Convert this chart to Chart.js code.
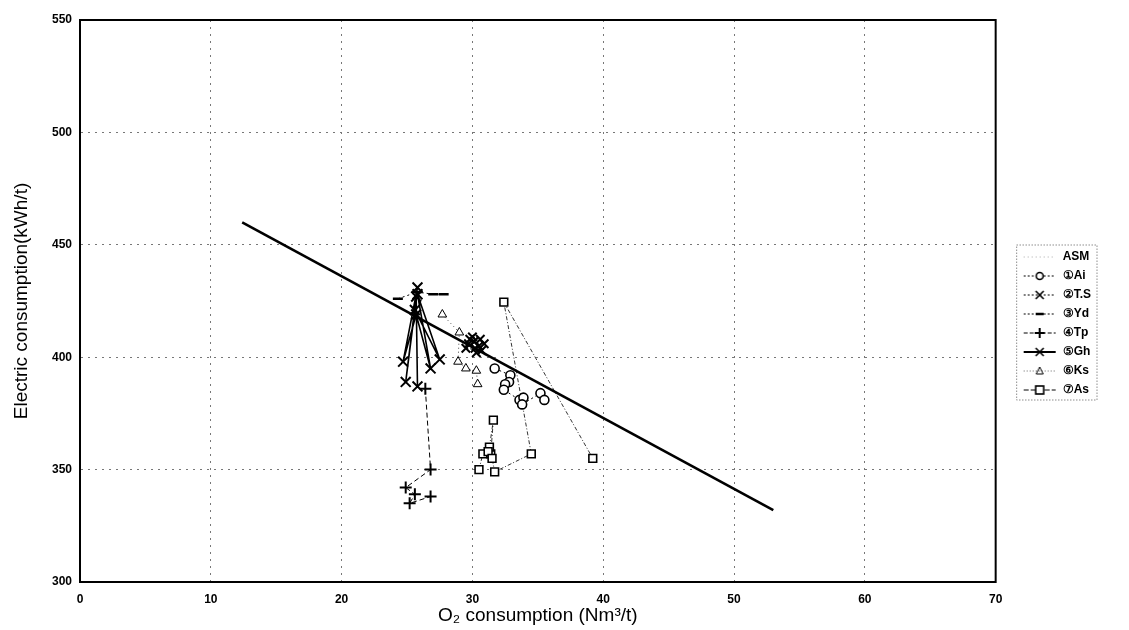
<!DOCTYPE html>
<html>
<head>
<meta charset="utf-8">
<script src="https://cdn.jsdelivr.net/npm/chart.js@4"></script>
<style>
  html, body { margin: 0; padding: 0; background: #fff; }
  #wrap { width: 1129px; height: 630px; }
</style>
</head>
<body>
<div id="wrap"><canvas id="o2Chart" width="1129" height="630"></canvas></div>
<script>
// axis ranges / ticks
const xTicks = [0, 10, 20, 30, 40, 50, 60, 70];
const yTicks = [300, 350, 400, 450, 500, 550];

// ASM trend line
const asmX = [12.4, 53.0];
const asmY = [460, 332];

// 1 Ai
const aiX = [31.7, 32.9, 32.8, 32.5, 32.4, 33.6, 33.9, 33.8, 35.2, 35.5];
const aiY = [395, 392, 389, 388, 385.5, 381, 382, 379, 384, 381];

// 2 T.S
const tsX = [29.7, 30.2, 30.6, 30.0, 30.9, 30.3, 29.8, 30.5, 30.1, 29.5, 30.7];
const tsY = [406, 404, 408, 409, 406, 402, 408, 405, 407, 404, 403];

// 3 Yd
const ydX = [24.3, 25.8, 27.0, 27.8];
const ydY = [426, 429, 428, 428];

// 4 Tp
const tpX = [26.4, 26.8, 24.9, 25.6, 25.2, 26.8];
const tpY = [386, 350, 342, 339, 335, 338];

// 5 Gh
const ghX = [25.8, 24.7, 25.7, 26.8, 25.8, 27.5, 25.6, 24.9, 25.7, 25.8];
const ghY = [431, 398, 419, 395, 428, 399, 421, 389, 427, 387];

// 6 Ks
const ksX = [27.7, 29.0, 28.9, 29.5, 30.3, 30.4];
const ksY = [419, 411, 398, 395, 394, 388];

// 7 As
const asX = [30.5, 30.8, 31.4, 31.6, 31.3, 31.2, 31.5, 31.7, 34.5, 32.4, 39.2];
const asY = [350, 357, 357, 372, 360, 358, 355, 349, 357, 424.5, 355];

const toPoints = (xs, ys) => xs.map((x, i) => ({ x: x, y: ys[i] }));

// legend icon: blank gap on the left (keeps the legend off the plot), then line + marker
const ICON_GAP = 20;
function legendIcon(dash, lineWidth, marker, lineColor) {
    const c = document.createElement('canvas');
    c.width = 34 + ICON_GAP; c.height = 14;
    const g = c.getContext('2d');
    g.translate(ICON_GAP, 0);
    g.strokeStyle = lineColor || '#000';
    g.lineWidth = lineWidth;
    g.setLineDash(dash);
    g.beginPath(); g.moveTo(1, 7); g.lineTo(33, 7); g.stroke();
    g.setLineDash([]);
    g.strokeStyle = '#000';
    g.lineWidth = 1.6;
    g.fillStyle = '#fff';
    g.beginPath();
    if (marker === 'circle') { g.arc(17, 7, 3.5, 0, Math.PI * 2); g.fill(); g.stroke(); }
    else if (marker === 'x') { g.moveTo(13, 3); g.lineTo(21, 11); g.moveTo(21, 3); g.lineTo(13, 11); g.stroke(); }
    else if (marker === 'dash') { g.lineWidth = 2.5; g.moveTo(13, 7); g.lineTo(21, 7); g.stroke(); }
    else if (marker === 'plus') { g.lineWidth = 2; g.moveTo(12, 7); g.lineTo(22, 7); g.moveTo(17, 2); g.lineTo(17, 12); g.stroke(); }
    else if (marker === 'tri') { g.lineWidth = 1; g.moveTo(17, 3); g.lineTo(20.5, 10); g.lineTo(13.5, 10); g.closePath(); g.stroke(); }
    else if (marker === 'square') { g.fillRect(13, 3, 8, 8); g.strokeRect(13, 3, 8, 8); }
    return c;
}

const icons = [
    legendIcon([1, 3], 1, null, '#aaa'),
    legendIcon([2, 2], 1, 'circle'),
    legendIcon([2, 2], 1, 'x'),
    legendIcon([2, 2], 1, 'dash'),
    legendIcon([4, 2], 1, 'plus'),
    legendIcon([], 2, 'x'),
    legendIcon([1, 2], 1, 'tri', '#666'),
    legendIcon([5, 2], 1, 'square')
];

const seriesStyle = (label, pts, dash, lineWidth, pointStyle, radius, extra) => Object.assign({
    label: label,
    data: pts,
    showLine: true,
    borderColor: '#000',
    backgroundColor: '#fff',
    borderWidth: lineWidth,
    borderDash: dash,
    pointStyle: pointStyle,
    pointRadius: radius,
    pointBorderColor: '#000',
    pointBackgroundColor: '#fff',
    pointBorderWidth: 1.6,
    tension: 0
}, extra || {});

const datasets = [
    seriesStyle('ASM', toPoints(asmX, asmY), [], 2.6, 'circle', 0),
    seriesStyle('①Ai', toPoints(aiX, aiY), [2, 3], 1, 'circle', 4.5),
    seriesStyle('②T.S', toPoints(tsX, tsY), [2, 2], 1, 'crossRot', 6, { pointBorderWidth: 2 }),
    seriesStyle('③Yd', toPoints(ydX, ydY), [2, 3], 1, 'line', 5, { pointBorderWidth: 2.5 }),
    seriesStyle('④Tp', toPoints(tpX, tpY), [5, 3], 1, 'cross', 6, { pointBorderWidth: 2 }),
    seriesStyle('⑤Gh', toPoints(ghX, ghY), [], 1.6, 'crossRot', 7, { pointBorderWidth: 2 }),
    seriesStyle('⑥Ks', toPoints(ksX, ksY), [1, 3], 1, 'triangle', 5, { borderColor: '#444', pointBorderWidth: 1 }),
    seriesStyle('⑦As', toPoints(asX, asY), [4, 2, 1, 2], 0.8, 'rect', 5.5, { pointBorderWidth: 1.6 })
];

// full frame around plot + dotted legend box
const framePlugin = {
    id: 'frame',
    afterDatasetsDraw(chart) {
        const { ctx, chartArea: a } = chart;
        ctx.save();
        ctx.strokeStyle = '#000';
        ctx.lineWidth = 2;
        ctx.strokeRect(a.left, a.top, a.right - a.left, a.bottom - a.top);
        ctx.restore();
    },
    afterDraw(chart) {
        const boxes = chart.legend && chart.legend.legendHitBoxes;
        if (!boxes || !boxes.length) return;
        const left = Math.min(...boxes.map(b => b.left)) + ICON_GAP - 6;
        const top = Math.min(...boxes.map(b => b.top)) - 6;
        const right = Math.max(...boxes.map(b => b.left + b.width)) + 6;
        const bottom = Math.max(...boxes.map(b => b.top + b.height)) + 4;
        const ctx = chart.ctx;
        ctx.save();
        ctx.strokeStyle = '#555';
        ctx.lineWidth = 1;
        ctx.setLineDash([1, 2]);
        ctx.strokeRect(left, top, right - left, bottom - top);
        ctx.restore();
    }
};

const tickFont = { family: 'Liberation Sans, Arial, sans-serif', size: 12, weight: 'bold' };
const titleFont = { family: 'Liberation Sans, Arial, sans-serif', size: 19 };

new Chart(document.getElementById('o2Chart'), {
    type: 'scatter',
    data: { datasets: datasets },
    options: {
        responsive: false,
        animation: false,
        devicePixelRatio: 1,
        layout: { padding: { left: 10, top: 20, right: 28, bottom: 3 } },
        plugins: {
            tooltip: { enabled: false },
            legend: {
                position: 'right',
                align: 'center',
                labels: {
                    usePointStyle: true,
                    pointStyleWidth: 34 + ICON_GAP,
                    boxHeight: 12,
                    padding: 7,
                    color: '#000',
                    font: { family: 'Liberation Sans, Arial, sans-serif', size: 12, weight: 'bold' },
                    generateLabels: (chart) => chart.data.datasets.map((ds, i) => ({
                        text: ds.label,
                        pointStyle: icons[i],
                        fillStyle: '#fff',
                        strokeStyle: '#fff',
                        lineWidth: 0,
                        fontColor: '#000',
                        hidden: false,
                        datasetIndex: i
                    }))
                }
            }
        },
        scales: {
            x: {
                type: 'linear',
                min: xTicks[0],
                max: xTicks[xTicks.length - 1],
                afterBuildTicks: (scale) => { scale.ticks = xTicks.map(v => ({ value: v })); },
                afterFit: (scale) => { scale.height = 45; },
                grid: { color: '#777', lineWidth: 1, drawTicks: false },
                border: { display: true, color: '#000', width: 2, dash: [2, 5] },
                ticks: { color: '#000', font: tickFont, padding: 10 },
                title: {
                    display: true,
                    text: 'O₂ consumption (Nm³/t)',
                    color: '#000',
                    font: titleFont,
                    padding: { top: 0, bottom: 0 }
                }
            },
            y: {
                type: 'linear',
                min: yTicks[0],
                max: yTicks[yTicks.length - 1],
                afterBuildTicks: (scale) => { scale.ticks = yTicks.map(v => ({ value: v })); },
                afterFit: (scale) => { scale.width = 70; },
                grid: { color: '#777', lineWidth: 1, drawTicks: false },
                border: { display: true, color: '#000', width: 2, dash: [2, 5] },
                ticks: { color: '#000', font: tickFont, padding: 8 },
                title: {
                    display: true,
                    text: 'Electric consumption(kWh/t)',
                    color: '#000',
                    font: titleFont,
                    padding: { top: 0, bottom: 4 }
                }
            }
        }
    },
    plugins: [framePlugin]
});
</script>
</body>
</html>
